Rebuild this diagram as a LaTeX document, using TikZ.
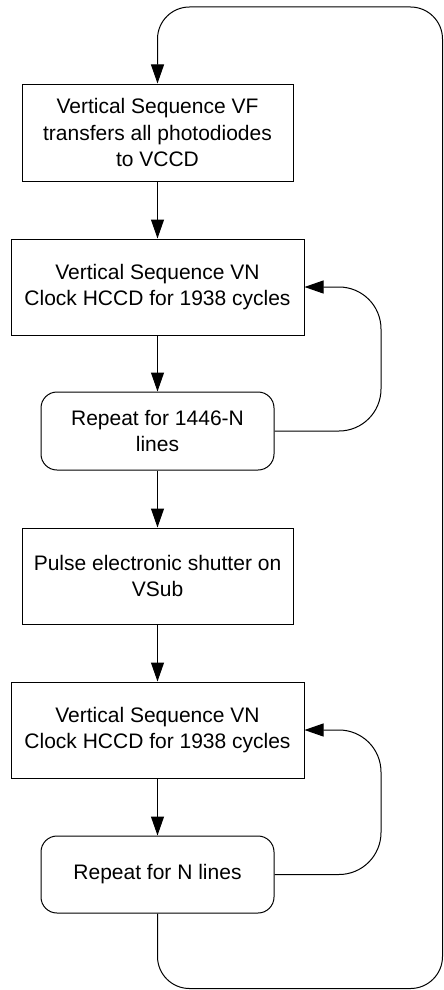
\documentclass[tikz,border=0pt]{standalone}
\usepackage{fontspec}
\setmainfont{Liberation Sans}
\usetikzlibrary{arrows.meta}

\begin{document}
\begin{tikzpicture}[x=1pt,y=-1pt,
  font=\fontsize{21}{26.5}\selectfont,
  flowbox/.style={draw, line width=1pt, inner sep=0pt, align=center},
  widebox/.style={flowbox, minimum width=293pt, minimum height=96pt},
  narrowbox/.style={flowbox, minimum width=271pt, minimum height=97pt},
  loopbox/.style={flowbox, rounded corners=16pt, minimum width=233pt, minimum height=78pt},
  link/.style={line width=1pt, -{Triangle[length=19pt,width=13pt]}}]

  \useasboundingbox (0,0) rectangle (444,990);

  % process steps
  \node[narrowbox] (vf)    at (157.5,132.5) {Vertical Sequence VF\\transfers all photodiodes\\to VCCD};
  \node[widebox]   (vn1)   at (157.5,287)   {Vertical Sequence VN\\Clock HCCD for 1938 cycles};
  \node[loopbox]   (rep1)  at (157.5,431)   {Repeat for 1446-N\\lines};
  \node[narrowbox, minimum height=96pt] (pulse) at (157.5,576) {Pulse electronic shutter on\\VSub};
  \node[widebox]   (vn2)   at (157.5,730)   {Vertical Sequence VN\\Clock HCCD for 1938 cycles};
  \node[loopbox, minimum height=77pt] (rep2) at (157.5,874.5) {Repeat for N lines};

  % turning points of the loops
  \coordinate (inner) at (381,0);
  \coordinate (outerbr) at (442.5,988.5);
  \coordinate (outertl) at (157.5,7);

  % straight flow
  \draw[link] (vf.south)    -- (vn1.north);
  \draw[link] (vn1.south)   -- (rep1.north);
  \draw[link] (rep1.south)  -- (pulse.north);
  \draw[link] (pulse.south) -- (vn2.north);
  \draw[link] (vn2.south)   -- (rep2.north);

  % line repeat loops
  \draw[link, rounded corners=42pt] (rep1.east) -| (inner |- vn1.east) -- (vn1.east);
  \draw[link, rounded corners=42pt] (rep2.east) -| (inner |- vn2.east) -- (vn2.east);

  % frame loop back to the top
  \draw[link, rounded corners=32pt] (rep2.south) |- (outerbr) |- (outertl) -- (vf.north);
\end{tikzpicture}
\end{document}
